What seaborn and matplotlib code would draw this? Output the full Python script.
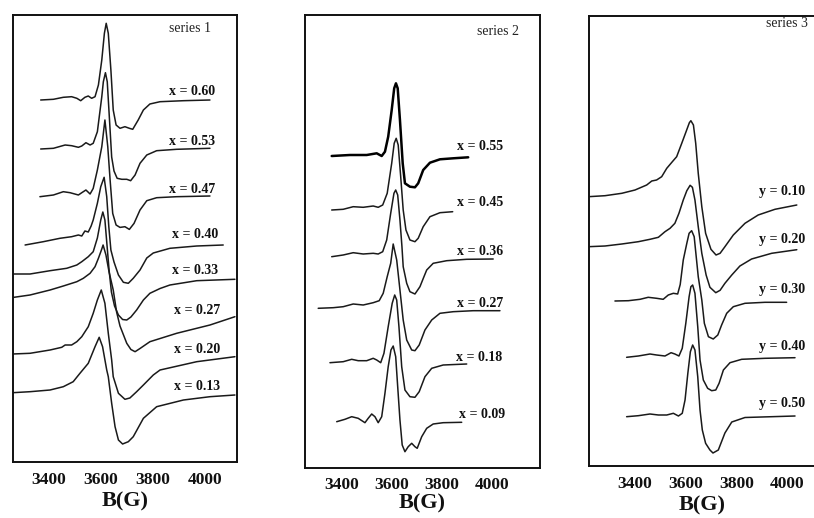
import numpy as np
import pandas as pd
import matplotlib
matplotlib.use("Agg")
import matplotlib.pyplot as plt
import seaborn as sns

# ---------------- data (B in Gauss, signal in arbitrary units) ----------------
# Series 1
B_s1_060 = [3368, 3417, 3455, 3487, 3507, 3522, 3538, 3551, 3564, 3577, 3590, 3603, 3613, 3620, 3628, 3638, 3647, 3658, 3673, 3692, 3709, 3722, 3743, 3763, 3788, 3827, 3917, 4019]
I_s1_060 = [0, 0.7, 2.7, 3.3, 1.7, -0.7, 2.7, 4, 1.7, 3.3, 15, 40, 66.7, 76.7, 66.7, 30, -10, -25, -28.3, -26.7, -28.3, -29.3, -20, -10, -4, -1.7, -0.7, 0]
B_s1_053 = [3368, 3417, 3462, 3487, 3513, 3526, 3542, 3558, 3570, 3586, 3603, 3609, 3617, 3624, 3632, 3641, 3650, 3662, 3680, 3699, 3714, 3731, 3750, 3776, 3814, 3891, 4019]
I_s1_053 = [0, 0.7, 4, 3.3, 1.7, 3, 6.3, 4, 5.7, 17.3, 52.3, 67.3, 76.3, 67.3, 32, -8, -22, -29.3, -30.3, -30.3, -31.7, -26, -14.3, -6, -1.7, -0.3, 0.7]
B_s1_047 = [3365, 3417, 3455, 3481, 3513, 3526, 3542, 3558, 3570, 3586, 3603, 3615, 3626, 3635, 3645, 3658, 3673, 3692, 3709, 3727, 3750, 3776, 3814, 3891, 4019]
I_s1_047 = [0, 1.7, 5, 4, 1.7, 4, 6.7, 2.7, 8.3, 26.7, 50, 76.7, 50, 16.7, -16.7, -28.3, -30.7, -30, -32.7, -26.7, -13.3, -4, -1, 0, 0.7]
B_s1_040 = [3308, 3378, 3442, 3487, 3513, 3526, 3538, 3551, 3562, 3570, 3586, 3599, 3612, 3622, 3630, 3638, 3650, 3667, 3686, 3705, 3724, 3750, 3776, 3801, 3865, 3968, 4070]
I_s1_040 = [0, 3.3, 6.7, 8.3, 10, 9, 14, 13, 19, 25, 41.7, 58.3, 67.7, 48.3, 18.3, -5, -17, -30, -37.3, -38.3, -33.3, -25, -13, -8, -3.3, -1, 0]
B_s1_033 = [3260, 3327, 3404, 3468, 3507, 3526, 3551, 3570, 3586, 3599, 3607, 3615, 3623, 3631, 3640, 3652, 3667, 3683, 3699, 3715, 3737, 3763, 3788, 3827, 3865, 3968, 4115]
I_s1_033 = [0, 0, 3.3, 5.7, 9, 12.3, 17.3, 22.3, 36, 54, 62, 54, 29, 4, -18, -32, -41, -45.5, -46, -43, -36, -26, -19.3, -14.5, -11, -6.7, -5.3]
B_s1_027 = [3260, 3327, 3404, 3455, 3507, 3532, 3558, 3577, 3590, 3603, 3608, 3619, 3631, 3647, 3660, 3673, 3699, 3715, 3731, 3750, 3788, 3891, 4019, 4115]
I_s1_027 = [0.5, 3, 8, 12, 16.3, 19.7, 24.7, 31.3, 39.7, 49, 53, 43, 26, 8, -14, -28, -45.3, -51.5, -53.7, -50.5, -43.7, -35.3, -27, -18.7]
B_s1_020 = [3260, 3327, 3404, 3449, 3462, 3487, 3507, 3526, 3551, 3570, 3586, 3601, 3615, 3628, 3641, 3647, 3667, 3692, 3711, 3737, 3763, 3801, 3827, 3968, 4115]
I_s1_020 = [0, 0.7, 4, 6.7, 9, 9, 12.3, 17.3, 27.3, 40.7, 54, 64, 50.7, 20.7, -6, -22.7, -39.3, -45.3, -44, -37.7, -31, -21, -16, -7.7, -2.7]
B_s1_013 = [3260, 3327, 3404, 3455, 3493, 3519, 3551, 3577, 3593, 3606, 3622, 3628, 3641, 3654, 3667, 3683, 3705, 3724, 3763, 3814, 3917, 4019, 4115]
I_s1_013 = [0, 1, 2.7, 6, 11, 19.4, 29.4, 46, 55.4, 46, 22.7, 16, -10.6, -34, -47.3, -51.3, -49, -44, -25.6, -14, -7.3, -4, -2.3]

labels_s1 = ["x = 0.60", "x = 0.53", "x = 0.47", "x = 0.40", "x = 0.33", "x = 0.27", "x = 0.20", "x = 0.13"]
offsets_s1 = [362, 313, 265.3, 217, 188, 164, 108, 69.3]

# Series 2
B_s2_055 = [3360, 3433, 3500, 3540, 3560, 3573, 3586, 3600, 3610, 3617, 3624, 3633, 3644, 3653, 3673, 3693, 3706, 3726, 3753, 3793, 3846, 3906]
I_s2_055 = [-0.5, 0.5, 0.5, 2.2, -0.5, 3.8, 18.8, 45.5, 67.2, 72.2, 67.2, 35.5, -7.8, -27.8, -31.2, -31.8, -27.8, -14.5, -7.2, -3.8, -2.8, -1.8]
B_s2_045 = [3360, 3406, 3446, 3486, 3526, 3546, 3564, 3582, 3600, 3610, 3618, 3626, 3636, 3646, 3657, 3673, 3693, 3706, 3726, 3753, 3793, 3844]
I_s2_045 = [-1, -0.3, 2.3, 1.7, 3, 1.7, 4, 15.7, 45.7, 65.7, 70.7, 64, 32.3, -1, -21, -31, -32.7, -29.3, -17.7, -7.7, -3.7, -2.7]
B_s2_036 = [3360, 3406, 3446, 3486, 3526, 3546, 3564, 3580, 3596, 3609, 3616, 3624, 3633, 3641, 3646, 3660, 3673, 3693, 3713, 3729, 3740, 3766, 3820, 3900, 4006]
I_s2_036 = [0, 1.7, 4, 2.7, 3.4, 2.7, 5, 16.7, 43.4, 63.4, 66.7, 61.7, 36.7, 10, -10, -26.6, -35, -37.3, -30, -20, -13.3, -6.6, -4, -2.6, -2.3]
B_s2_027 = [3306, 3366, 3406, 3446, 3486, 3526, 3550, 3566, 3582, 3596, 3606, 3620, 3633, 3646, 3660, 3680, 3693, 3710, 3733, 3760, 3793, 3846, 3926, 4033]
I_s2_027 = [-0.3, 0.3, 1.3, 4, 3, 5.3, 7.3, 14.7, 31.3, 44.7, 64, 48, 18, -12, -32, -42, -42.7, -37, -22, -12, -5.3, -3.7, -2.7, -2.7]
B_s2_018 = [3353, 3406, 3440, 3466, 3500, 3526, 3540, 3556, 3569, 3586, 3602, 3612, 3620, 3629, 3640, 3653, 3673, 3693, 3710, 3733, 3760, 3806, 3900]
I_s2_018 = [-0.7, 0.3, 2.7, 1.3, 1.3, 3.7, 2, -0.7, 8.7, 35.3, 58.7, 67, 62, 35.3, -4.7, -28, -34.7, -35.3, -29.7, -14.7, -6.3, -3, -2]
B_s2_009 = [3380, 3413, 3440, 3466, 3493, 3506, 3520, 3533, 3546, 3560, 3573, 3586, 3597, 3606, 3616, 3624, 3633, 3642, 3653, 3666, 3680, 3693, 3702, 3720, 3740, 3766, 3806, 3880]
I_s2_009 = [0, 2.4, 5, 3.4, -1, 3.4, 7.7, 5, -1, 5, 28.4, 55, 71.7, 75.7, 65, 35, 1.7, -23.3, -30, -25, -21.6, -25, -26.6, -15, -6.6, -2.3, -1, -0.6]

labels_s2 = ["x = 0.55", "x = 0.45", "x = 0.36", "x = 0.27", "x = 0.18", "x = 0.09"]
offsets_s2 = [312.5, 259, 211.3, 160, 106, 46.3]

# Series 3
B_s3_010 = [3216, 3282, 3348, 3400, 3446, 3466, 3485, 3505, 3525, 3547, 3564, 3584, 3601, 3614, 3620, 3630, 3639, 3649, 3663, 3678, 3699, 3719, 3735, 3754, 3787, 3833, 3885, 3951, 4037]
I_s3_010 = [0.3, 1.3, 3.7, 7, 12, 16, 17, 20.3, 28.7, 35.3, 40.3, 53.7, 65.3, 74.3, 76.3, 72, 53.7, 23.7, -9.7, -36.3, -52.3, -58, -56.3, -49.7, -38, -26.3, -18, -12.3, -8]
B_s3_020 = [3216, 3282, 3348, 3413, 3459, 3492, 3518, 3538, 3557, 3573, 3590, 3604, 3617, 3626, 3636, 3649, 3663, 3680, 3695, 3718, 3735, 3754, 3781, 3813, 3859, 3938, 4037]
I_s3_020 = [0, 0.7, 2.7, 5, 7.4, 9.4, 15, 18.4, 23.4, 33.4, 46.7, 56, 61.4, 59.4, 46.7, 20, -6.6, -28.3, -40.6, -46, -43.6, -36.6, -28.3, -19.3, -12.3, -6.6, -3]
B_s3_030 = [3321, 3374, 3420, 3452, 3485, 3511, 3531, 3551, 3568, 3578, 3590, 3604, 3613, 3623, 3633, 3649, 3663, 3673, 3689, 3708, 3726, 3741, 3761, 3787, 3833, 3912, 3997]
I_s3_030 = [-0.5, -0.2, 1.2, 3.2, 2.2, 1.2, 5.5, 7.2, 6.5, 16, 40.5, 57.2, 67.2, 69.8, 63.8, 23.8, 0.5, -22.8, -36.2, -38.5, -34.5, -24.5, -12.8, -6.2, -2.8, -1.8, -1.8]
B_s3_040 = [3367, 3413, 3459, 3485, 3518, 3542, 3557, 3573, 3586, 3600, 3613, 3620, 3627, 3636, 3647, 3656, 3669, 3686, 3702, 3718, 3731, 3748, 3774, 3820, 3912, 4030]
I_s3_040 = [-0.3, 1, 3, 2, 1, 4.3, 3, 1, 8.7, 33.7, 60.3, 70.3, 72, 63.7, 30.3, -3, -23, -31.3, -33.7, -33, -26.3, -13, -5.7, -2.3, -1.3, -0.7]
B_s3_050 = [3367, 3413, 3459, 3492, 3525, 3551, 3571, 3586, 3597, 3608, 3618, 3627, 3636, 3647, 3656, 3665, 3678, 3695, 3707, 3728, 3754, 3781, 3833, 3938, 4030]
I_s3_050 = [-0.7, 0.3, 2, 1, 1, 2.7, 0, 2.7, 16, 42.7, 64.3, 71, 66, 39.3, 6, -14, -27.3, -34, -37, -34, -17, -6, -1.5, -0.7, 0]

labels_s3 = ["y = 0.10", "y = 0.20", "y = 0.30", "y = 0.40", "y = 0.50"]
offsets_s3 = [269, 219.3, 165.5, 109, 50]

titles = ["series 1", "series 2", "series 3"]
tick_values = [3400, 3600, 3800, 4000]
x_label = "B(G)"

# ---------------- build tables ----------------
def build(curves, labels, offsets):
    frames = []
    for (b, s), lab, off in zip(curves, labels, offsets):
        frames.append(pd.DataFrame({"B": b, "I": np.asarray(s) + off, "sample": lab}))
    return pd.concat(frames, ignore_index=True)

df1 = build([(B_s1_060, I_s1_060), (B_s1_053, I_s1_053), (B_s1_047, I_s1_047), (B_s1_040, I_s1_040),
             (B_s1_033, I_s1_033), (B_s1_027, I_s1_027), (B_s1_020, I_s1_020), (B_s1_013, I_s1_013)],
            labels_s1, offsets_s1)
df2 = build([(B_s2_055, I_s2_055), (B_s2_045, I_s2_045), (B_s2_036, I_s2_036), (B_s2_027, I_s2_027),
             (B_s2_018, I_s2_018), (B_s2_009, I_s2_009)], labels_s2, offsets_s2)
df3 = build([(B_s3_010, I_s3_010), (B_s3_020, I_s3_020), (B_s3_030, I_s3_030), (B_s3_040, I_s3_040),
             (B_s3_050, I_s3_050)], labels_s3, offsets_s3)

# ---------------- style ----------------
sns.set_theme(style="white")
plt.rcParams["font.family"] = ["Liberation Serif", "DejaVu Serif"]
plt.rcParams["axes.linewidth"] = 1.4
plt.rcParams["axes.edgecolor"] = "#111111"

W, H = 814, 518
fig = plt.figure(figsize=(W / 100, H / 100), dpi=100)
fig.patch.set_facecolor("white")

def make_axes(l, r, t, b):
    return fig.add_axes([l / W, 1 - b / H, (r - l) / W, (b - t) / H])

panels = [
    dict(df=df1, box=(12.5, 237, 15, 462), xlim=(3259.6, 4123), ylim=(0, 447), pad=7.5, lpad=2,
         title=(3942, 433.7), labels=labels_s1,
         lpos=[(3949, 370.3), (3949, 320.3), (3949, 272.7), (3962, 227), (3962, 191.3), (3968, 152), (3968, 112.7), (3968, 76)]),
    dict(df=df2, box=(304.5, 539.5, 15, 468), xlim=(3251.2, 4191.2), ylim=(0, 453), pad=6.5, lpad=0.5,
         title=(4027, 436.3), labels=labels_s2,
         lpos=[(3953, 321.3), (3953, 265.3), (3953, 216.3), (3953, 164.7), (3950, 110.7), (3960, 54)]),
    dict(df=df3, box=(588.5, 816, 16, 466), xlim=(3216.9, 4112.6), ylim=(0, 450), pad=7.5, lpad=2,
         title=(3997, 442.5), labels=labels_s3,
         lpos=[(3978, 274.3), (3978, 226), (3978, 176), (3978, 119.3), (3978, 62)]),
]

line_color = "#1a1a1a"
for i, p in enumerate(panels):
    ax = make_axes(*p["box"])
    ax.set_facecolor("white")
    data = p["df"]
    thin = data[data["sample"] != "x = 0.55"]
    sns.lineplot(data=thin, x="B", y="I", units="sample", estimator=None, sort=False,
                 color=line_color, linewidth=1.1, ax=ax, legend=False)
    thick = data[data["sample"] == "x = 0.55"]
    if len(thick):
        sns.lineplot(data=thick, x="B", y="I", estimator=None, sort=False,
                     color="#000000", linewidth=1.8, ax=ax, legend=False)
    ax.set_xlim(*p["xlim"])
    ax.set_ylim(*p["ylim"])
    ax.set_yticks([])
    ax.set_ylabel("")
    ax.set_xticks(tick_values)
    ax.set_xticklabels([str(t) for t in tick_values], fontweight="bold", fontsize=12.6, color="#111111")
    ax.tick_params(axis="x", length=0, pad=p["pad"])
    ax.set_xlabel(x_label, fontweight="bold", fontsize=16, color="#111111", labelpad=p["lpad"])
    for sp in ax.spines.values():
        sp.set_visible(True)
        sp.set_color("#111111")
        sp.set_linewidth(1.4)
    ax.text(p["title"][0], p["title"][1], titles[i], ha="center", va="center", fontsize=10, color="#222222")
    for lab, (bx, by) in zip(p["labels"], p["lpos"]):
        ax.text(bx, by, lab, ha="center", va="center", fontsize=10, fontweight="bold", color="#111111")

fig.savefig("out.png", dpi=100, facecolor="white")
